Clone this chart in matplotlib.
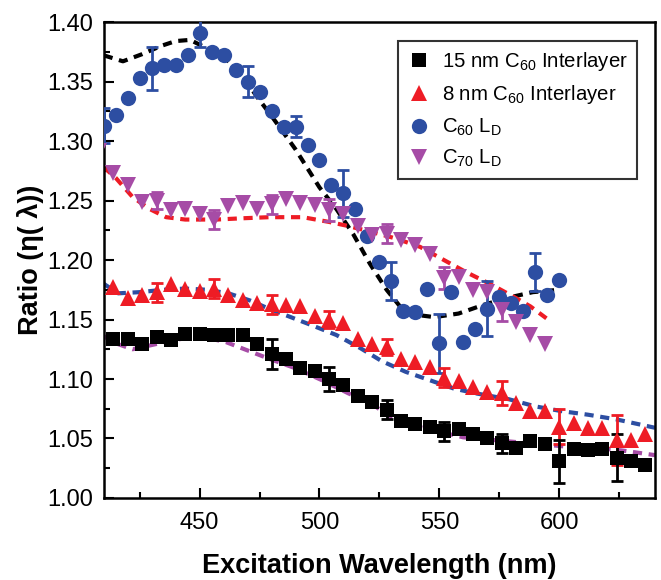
import numpy as np
import matplotlib
matplotlib.use("Agg")
import matplotlib.pyplot as plt

plt.rcParams['font.family'] = ['Liberation Sans', 'DejaVu Sans']
plt.rcParams['mathtext.default'] = 'regular'

# ---- 15 nm C60 interlayer (black squares) ----
wl_sq = [414, 420, 426, 432, 438, 444, 450, 456, 462, 468, 474, 480, 486, 492, 498, 504,
         510, 516, 522, 528, 534, 540, 546, 552, 558, 564, 570, 576, 582, 588, 594, 600,
         606, 612, 618, 624, 630, 636]
r_sq = [1.134, 1.134, 1.129, 1.135, 1.133, 1.138, 1.138, 1.137, 1.137, 1.137, 1.129, 1.121,
        1.117, 1.109, 1.107, 1.100, 1.095, 1.086, 1.081, 1.074, 1.065, 1.062, 1.060, 1.056,
        1.058, 1.054, 1.050, 1.046, 1.042, 1.048, 1.045, 1.031, 1.041, 1.040, 1.041, 1.034,
        1.031, 1.028]
err_sq_x = [432, 456, 480, 504, 528, 552, 576, 600, 624]
err_sq_y = [1.135, 1.137, 1.121, 1.100, 1.074, 1.056, 1.046, 1.031, 1.034]
err_sq_e = [0.004, 0.004, 0.013, 0.010, 0.008, 0.008, 0.008, 0.018, 0.020]

# ---- 8 nm C60 interlayer (red triangles) ----
wl_tri = wl_sq
r_tri = [1.177, 1.168, 1.171, 1.173, 1.180, 1.176, 1.174, 1.176, 1.171, 1.166, 1.164, 1.163,
         1.162, 1.161, 1.153, 1.150, 1.147, 1.134, 1.129, 1.127, 1.117, 1.114, 1.110, 1.101,
         1.098, 1.093, 1.089, 1.088, 1.080, 1.073, 1.073, 1.060, 1.063, 1.059, 1.059, 1.049,
         1.049, 1.054]
err_tri_x = [432, 456, 480, 504, 528, 552, 576, 600, 624]
err_tri_y = [1.173, 1.176, 1.163, 1.150, 1.127, 1.101, 1.088, 1.060, 1.049]
err_tri_e = [0.008, 0.008, 0.008, 0.007, 0.007, 0.008, 0.010, 0.015, 0.021]

# ---- C60 LD (blue circles) ----
wl_c60 = [410, 415, 420, 425, 430, 435, 440, 445, 450, 455, 460, 465, 470, 475, 480, 485,
          490, 495, 500, 505, 510, 515, 520, 525, 530, 535, 540, 545, 550, 555, 560, 565,
          570, 575, 580, 585, 590, 595, 600]
r_c60 = [1.313, 1.322, 1.336, 1.353, 1.361, 1.364, 1.364, 1.372, 1.391, 1.375, 1.372, 1.360,
         1.350, 1.341, 1.325, 1.312, 1.312, 1.297, 1.284, 1.263, 1.256, 1.243, 1.220, 1.198,
         1.182, 1.157, 1.156, 1.176, 1.130, 1.173, 1.131, 1.142, 1.159, 1.169, 1.164, 1.157,
         1.190, 1.171, 1.183]
err_c60_x = [410, 430, 450, 470, 490, 510, 530, 550, 570, 590]
err_c60_y = [1.313, 1.361, 1.391, 1.350, 1.312, 1.256, 1.182, 1.130, 1.159, 1.190]
err_c60_e = [0.015, 0.018, 0.012, 0.013, 0.009, 0.020, 0.016, 0.025, 0.023, 0.016]

# ---- C70 LD (magenta down triangles) ----
wl_c70 = [408, 414, 420, 426, 432, 438, 444, 450, 456, 462, 468, 474, 480, 486, 492, 498,
          504, 510, 516, 522, 528, 534, 540, 546, 552, 558, 564, 570, 576, 582, 588, 594]
r_c70 = [1.292, 1.273, 1.263, 1.249, 1.250, 1.242, 1.243, 1.239, 1.234, 1.245, 1.248, 1.243,
         1.247, 1.251, 1.248, 1.246, 1.242, 1.239, 1.229, 1.221, 1.222, 1.217, 1.213, 1.205,
         1.185, 1.186, 1.175, 1.173, 1.158, 1.148, 1.137, 1.129]
err_c70_x = [432, 456, 480, 504, 528, 552, 576]
err_c70_y = [1.250, 1.234, 1.247, 1.242, 1.222, 1.185, 1.158]
err_c70_e = [0.007, 0.008, 0.008, 0.009, 0.008, 0.009, 0.009]

# ---- dashed fit curves ----
fit_k_x = [410, 418, 426, 434, 440, 446, 452, 460, 467, 474, 480, 490, 500, 507, 514, 521,
           528, 534, 540, 548, 558, 568, 578, 589, 600]
fit_k_y = [1.372, 1.367, 1.373, 1.380, 1.384, 1.385, 1.379, 1.371, 1.357, 1.337, 1.321,
           1.293, 1.261, 1.243, 1.222, 1.197, 1.175, 1.160, 1.154, 1.152, 1.155, 1.162,
           1.168, 1.173, 1.175]
fit_r_x = [410, 415, 422, 429, 436, 444, 457, 467, 479, 493, 504, 511, 521, 532, 542, 551,
           561, 572, 582, 588, 596]
fit_r_y = [1.278, 1.269, 1.253, 1.243, 1.236, 1.234, 1.234, 1.235, 1.236, 1.236, 1.232,
           1.229, 1.224, 1.218, 1.211, 1.201, 1.190, 1.179, 1.168, 1.161, 1.149]
fit_b_x = [410, 416, 425, 435, 444, 453, 462, 471, 479, 488, 497, 507, 517, 526, 536, 546,
           556, 565, 579, 590, 601, 612, 624, 640]
fit_b_y = [1.180, 1.172, 1.173, 1.175, 1.176, 1.175, 1.172, 1.166, 1.159, 1.152, 1.145,
           1.137, 1.126, 1.115, 1.106, 1.099, 1.092, 1.088, 1.083, 1.077, 1.073, 1.070,
           1.066, 1.059]
fit_m_x = [410, 415, 422, 431, 443, 452, 461, 470, 479, 490, 501, 512, 521, 530, 539, 549,
           560, 571, 582, 593, 604, 615, 626, 640]
fit_m_y = [1.136, 1.130, 1.125, 1.129, 1.134, 1.135, 1.131, 1.124, 1.117, 1.109, 1.099,
           1.088, 1.080, 1.068, 1.061, 1.056, 1.051, 1.049, 1.047, 1.045, 1.043, 1.042,
           1.040, 1.036]

BLACK = '#000000'
RED = '#ee1c25'
BLUE = '#2d4ea2'
MAG = '#a64ca6'

fig = plt.figure(figsize=(6.61, 5.80), dpi=100)
ax = fig.add_axes([0.157, 0.1414, 0.834, 0.8206])

dash = (0, (2.2, 1.6))
lw_fit = 3.0
ax.plot(fit_k_x, fit_k_y, color=BLACK, lw=lw_fit, linestyle=dash, zorder=2)
ax.plot(fit_r_x, fit_r_y, color=RED, lw=lw_fit, linestyle=dash, zorder=2)
ax.plot(fit_b_x, fit_b_y, color=BLUE, lw=lw_fit, linestyle=dash, zorder=2)
ax.plot(fit_m_x, fit_m_y, color=MAG, lw=lw_fit, linestyle=dash, zorder=2)

ekw = dict(fmt='none', capsize=4.5, elinewidth=2, capthick=2, zorder=3)
ax.errorbar(err_c70_x, err_c70_y, yerr=err_c70_e, ecolor=MAG, **ekw)
ax.errorbar(err_c60_x, err_c60_y, yerr=err_c60_e, ecolor=BLUE, **ekw)
ax.errorbar(err_tri_x, err_tri_y, yerr=err_tri_e, ecolor=RED, **ekw)
ax.errorbar(err_sq_x, err_sq_y, yerr=err_sq_e, ecolor=BLACK, **ekw)

h1, = ax.plot(wl_sq, r_sq, 's', color=BLACK, ms=9.5, mew=0, zorder=4,
              label='15 nm C$_{60}$ Interlayer')
h2, = ax.plot(wl_tri, r_tri, '^', color=RED, ms=11, mew=0, zorder=4,
              label='8 nm C$_{60}$ Interlayer')
h3, = ax.plot(wl_c60, r_c60, 'o', color=BLUE, ms=11, mew=0, zorder=4,
              label='C$_{60}$ L$_{D}$')
h4, = ax.plot(wl_c70, r_c70, 'v', color=MAG, ms=11, mew=0, zorder=4,
              label='C$_{70}$ L$_{D}$')

ax.set_xlim(410, 640)
ax.set_ylim(1.00, 1.40)
ax.set_xticks([450, 500, 550, 600])
ax.set_xticks([425, 475, 525, 575, 625], minor=True)
ax.set_yticks(np.arange(1.00, 1.401, 0.05))
ax.set_yticks(np.arange(1.025, 1.40, 0.05), minor=True)
ax.yaxis.set_major_formatter(matplotlib.ticker.FormatStrFormatter('%.2f'))
ax.tick_params(which='both', direction='in', top=False, right=False, labelsize=17,
               width=1.5)
ax.tick_params(which='major', length=7)
ax.tick_params(axis='x', which='major', pad=10)
ax.tick_params(axis='y', which='major', pad=8)
ax.tick_params(which='minor', length=4)
for s in ax.spines.values():
    s.set_linewidth(1.8)

ax.set_xlabel('Excitation Wavelength (nm)', fontsize=19.5, fontweight='bold', labelpad=14)
ax.set_ylabel('Ratio (η( λ))', fontsize=19.5, fontweight='bold', labelpad=2)

leg = ax.legend(handles=[h1, h2, h3, h4], loc='upper right',
                bbox_to_anchor=(0.967, 0.96), borderaxespad=0, fontsize=14.7,
                frameon=True, fancybox=False, edgecolor='black', handletextpad=0.5,
                borderpad=0.45, labelspacing=0.5, handlelength=1.2)
leg.get_frame().set_linewidth(1.5)

fig.savefig('out.png', dpi=100)
